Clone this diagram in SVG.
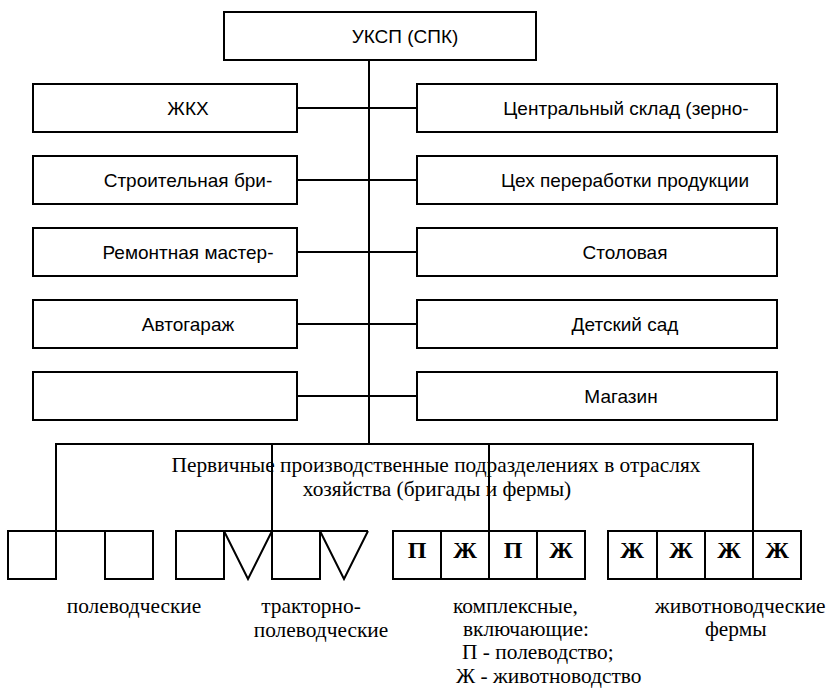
<svg xmlns="http://www.w3.org/2000/svg" width="828" height="689" viewBox="0 0 828 689">
<style>
.box{fill:#fff;stroke:#000;stroke-width:2}
.ln{fill:none;stroke:#000;stroke-width:2}
.sans{font-family:"Liberation Sans",Arial,sans-serif;font-size:19px;fill:#000;text-anchor:middle}
.serif{font-family:"Liberation Serif","Times New Roman",serif;font-size:21.4px;fill:#000}
.mid{text-anchor:middle}
.big{font-family:"Liberation Serif","Times New Roman",serif;font-size:24px;font-weight:bold;fill:#000;text-anchor:middle}
</style>
<rect width="828" height="689" fill="#fff"/>
<g id="connectors">
<line class="ln" x1="369" y1="60" x2="369" y2="444"/>
<line class="ln" x1="297" y1="108" x2="417" y2="108"/>
<line class="ln" x1="297" y1="180" x2="417" y2="180"/>
<line class="ln" x1="297" y1="252" x2="417" y2="252"/>
<line class="ln" x1="297" y1="324" x2="417" y2="324"/>
<line class="ln" x1="297" y1="396" x2="417" y2="396"/>
<line class="ln" x1="56" y1="444" x2="753" y2="444"/>
<line class="ln" x1="56" y1="443" x2="56" y2="531"/>
<line class="ln" x1="272" y1="444" x2="272" y2="531"/>
<line class="ln" x1="489" y1="444" x2="489" y2="531"/>
<line class="ln" x1="753" y1="443" x2="753" y2="531"/>
</g>
<g id="root"><rect class="box" x="224" y="12" width="312" height="48"/><text class="sans" x="405" y="43">УКСП (СПК)</text></g>
<g id="l1"><rect class="box" x="33" y="84" width="264" height="48"/><text class="sans" x="188" y="115">ЖКХ</text></g>
<g id="l2"><rect class="box" x="33" y="156" width="264" height="48"/><text class="sans" x="188" y="187">Строительная бри-</text></g>
<g id="l3"><rect class="box" x="33" y="228" width="264" height="48"/><text class="sans" x="188" y="259">Ремонтная мастер-</text></g>
<g id="l4"><rect class="box" x="33" y="300" width="264" height="48"/><text class="sans" x="188" y="331">Автогараж</text></g>
<g id="l5"><rect class="box" x="33" y="372" width="264" height="48"/></g>
<g id="r1"><rect class="box" x="417" y="84" width="360" height="48"/><text class="sans" x="626" y="115">Центральный склад (зерно-</text></g>
<g id="r2"><rect class="box" x="417" y="156" width="360" height="48"/><text class="sans" x="625" y="187">Цех переработки продукции</text></g>
<g id="r3"><rect class="box" x="417" y="228" width="360" height="48"/><text class="sans" x="625" y="259">Столовая</text></g>
<g id="r4"><rect class="box" x="417" y="300" width="360" height="48"/><text class="sans" x="625" y="331">Детский сад</text></g>
<g id="r5"><rect class="box" x="417" y="372" width="360" height="48"/><text class="sans" x="621" y="403">Магазин</text></g>
<g id="primary-label">
<text class="serif mid" x="436" y="472">Первичные производственные подразделениях в отраслях</text>
<text class="serif mid" x="437" y="496">хозяйства (бригады и фермы)</text>
</g>
<g id="field">
<line class="ln" x1="8" y1="531" x2="153" y2="531"/>
<rect class="ln" x="8" y="531" width="48" height="48"/>
<rect class="ln" x="105" y="531" width="48" height="48"/>
<text class="serif mid" x="134" y="613">полеводческие</text>
</g>
<g id="tractor">
<line class="ln" x1="176" y1="531" x2="368" y2="531"/>
<rect class="ln" x="176" y="531" width="48" height="48"/>
<polyline class="ln" points="224,531 248,579 272,531"/>
<rect class="ln" x="272" y="531" width="48" height="48"/>
<polyline class="ln" points="320,531 344,579 368,531"/>
<text class="serif mid" x="311" y="613">тракторно-</text>
<text class="serif mid" x="321" y="637">полеводческие</text>
</g>
<g id="complex">
<rect class="ln" x="393" y="531" width="192" height="48"/>
<line class="ln" x1="441" y1="531" x2="441" y2="579"/>
<line class="ln" x1="489" y1="531" x2="489" y2="579"/>
<line class="ln" x1="537" y1="531" x2="537" y2="579"/>
<text class="big" x="417" y="558">П</text>
<text class="big" x="465" y="558">Ж</text>
<text class="big" x="513" y="558">П</text>
<text class="big" x="561" y="558">Ж</text>
<text class="serif" x="453" y="613">комплексные,</text>
<text class="serif" x="463" y="636">включающие:</text>
<text class="serif" x="462" y="659">П - полеводство;</text>
<text class="serif" x="456" y="683">Ж - животноводство</text>
</g>
<g id="livestock">
<rect class="ln" x="608" y="531" width="193" height="48"/>
<line class="ln" x1="657" y1="531" x2="657" y2="579"/>
<line class="ln" x1="705" y1="531" x2="705" y2="579"/>
<line class="ln" x1="753" y1="531" x2="753" y2="579"/>
<text class="big" x="632" y="558">Ж</text>
<text class="big" x="681" y="558">Ж</text>
<text class="big" x="729" y="558">Ж</text>
<text class="big" x="777" y="558">Ж</text>
<text class="serif" x="655" y="613">животноводческие</text>
<text class="serif" x="705" y="636">фермы</text>
</g>
</svg>
